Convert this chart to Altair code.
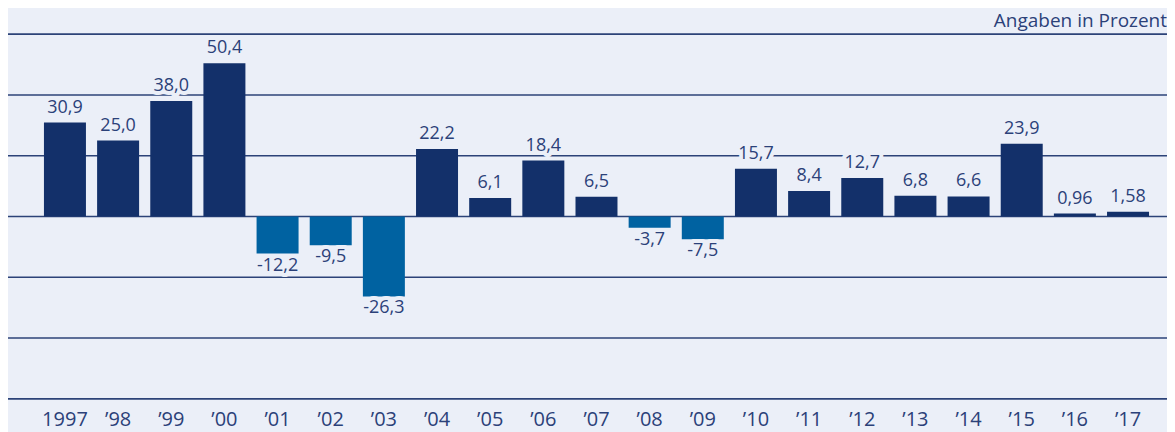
import altair as alt
import pandas as pd

years = ["1997", "’98", "’99", "’00", "’01", "’02", "’03", "’04", "’05", "’06", "’07",
         "’08", "’09", "’10", "’11", "’12", "’13", "’14", "’15", "’16", "’17"]
values = [30.9, 25.0, 38.0, 50.4, -12.2, -9.5, -26.3, 22.2, 6.1, 18.4, 6.5,
          -3.7, -7.5, 15.7, 8.4, 12.7, 6.8, 6.6, 23.9, 0.96, 1.58]
labels = ["30,9", "25,0", "38,0", "50,4", "-12,2", "-9,5", "-26,3", "22,2", "6,1", "18,4", "6,5",
          "-3,7", "-7,5", "15,7", "8,4", "12,7", "6,8", "6,6", "23,9", "0,96", "1,58"]
grid_values = [-60, -40, -20, 0, 20, 40, 60]
unit_note = "Angaben in Prozent"

BG = "#ebeff8"
POS = "#13306a"
NEG = "#0062a1"
TXT = "#2b4179"
GRID = "#2c4378"
FONT = "Open Sans"

df = pd.DataFrame({"year": years, "value": values, "label": labels})
grid_df = pd.DataFrame({"g": grid_values})

xscale = alt.Scale(range=[30.4, 1147.6], paddingInner=0.21, paddingOuter=0.105)
x = alt.X("year:N", sort=years, scale=xscale,
          axis=alt.Axis(title=None, domain=False, ticks=False, labelAngle=0,
                        labelFontSize=20, labelColor=TXT, labelFont=FONT,
                        labelBaseline="alphabetic", labelPadding=27))
yscale = alt.Scale(domain=[-60, 60], nice=False)

grid = alt.Chart(grid_df).mark_rule(color=GRID, strokeWidth=1.6).encode(
    y=alt.Y("g:Q", scale=yscale, axis=None),
    x=alt.value(0), x2=alt.value(1160))

bars = alt.Chart(df).mark_bar().encode(
    x=x,
    y=alt.Y("value:Q", scale=yscale, axis=None),
    y2=alt.datum(0),
    color=alt.condition("datum.value >= 0", alt.value(POS), alt.value(NEG)))


def txt(filt, dy, halo):
    kw = dict(fontSize=18, font=FONT, baseline="alphabetic", dy=dy, align="center")
    if halo:
        kw.update(stroke=BG, strokeWidth=8, color=BG, strokeJoin="round")
    else:
        kw.update(color=TXT)
    return alt.Chart(df).transform_filter(filt).mark_text(**kw).encode(
        x=alt.X("year:N", sort=years, scale=xscale),
        y=alt.Y("value:Q", scale=yscale),
        text="label:N")


pos_filter = "datum.value >= 0"
neg_filter = "datum.value < 0"
layers = [grid, bars,
          txt(pos_filter, -10, True), txt(neg_filter, 17, True),
          txt(pos_filter, -10, False), txt(neg_filter, 17, False)]

note = alt.Chart(pd.DataFrame({"t": [unit_note]})).mark_text(
    align="right", baseline="alphabetic", fontSize=19, font=FONT, color=TXT).encode(
    x=alt.value(1160), y=alt.value(-7), text="t:N")

chart = alt.layer(*layers, note).properties(
    width=1160, height=365,
    autosize=alt.AutoSizeParams(type="none"),
    padding={"left": 0, "top": 26, "right": 0, "bottom": 33},
    background=BG,
).configure_view(stroke=None)

chart.save("out.html", embed_options={"renderer": "svg", "actions": False})
